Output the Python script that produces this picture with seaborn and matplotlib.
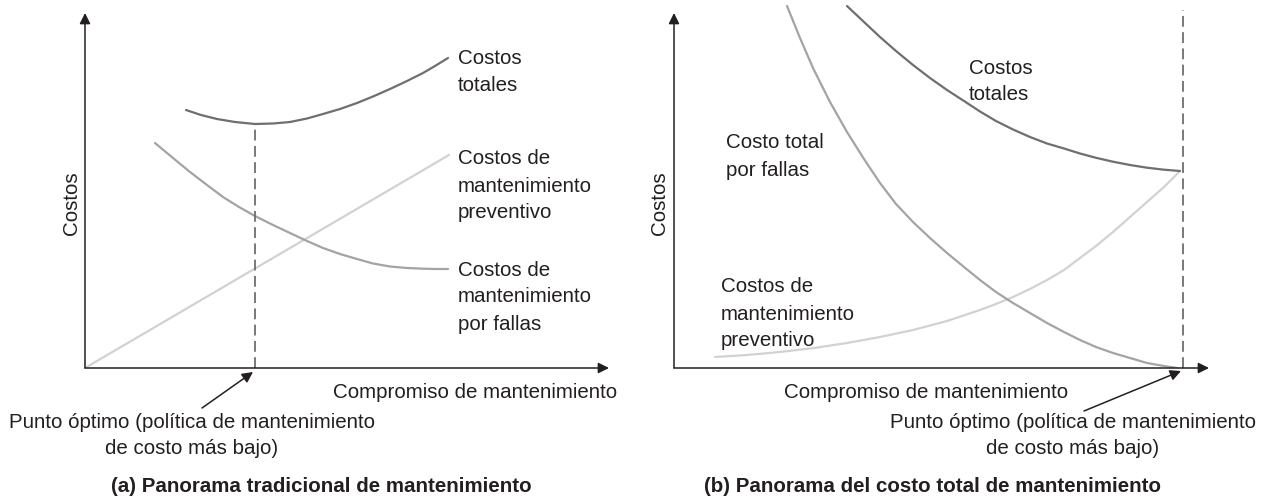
import matplotlib
matplotlib.use("Agg")
import matplotlib.pyplot as plt
import seaborn as sns
import pandas as pd

# ---------------- data (arbitrary cost units) ----------------
# Panel (a): traditional view
a_prev_x = [0, 364]
a_prev_y = [0, 213]
a_fail_x = [70, 88, 105, 122, 138, 154, 170, 188, 205, 222, 238, 255, 272, 288, 305, 322, 338, 350, 363]
a_fail_y = [225, 210, 196, 183, 171, 161, 152, 143, 135, 127, 120, 114, 109, 104.5, 101.5, 100, 99.3, 99, 99]
a_tot_x = [101, 116, 132, 150, 170, 188, 205, 222, 238, 255, 272, 288, 305, 322, 338, 350, 363]
a_tot_y = [258, 253, 249, 246, 244, 244.5, 246, 249.5, 254, 259, 265, 271.5, 279, 287, 295, 302, 310]
a_opt_x = 170
a_opt_y = 244

# Panel (b): total cost view
b_tot_x = [173, 190, 206, 222, 239, 256, 273, 290, 306, 322, 339, 356, 373, 390, 406, 422, 439, 456, 473, 490, 506]
b_tot_y = [362, 346, 331, 317, 303, 290, 278, 267, 256.5, 247, 238.5, 231, 224.5, 219.5, 214.5, 210.2, 206.3, 203, 200.3, 198.3, 197]
b_fail_x = [113, 126, 139, 156, 173, 190, 206, 222, 239, 256, 273, 290, 306, 322, 339, 356, 373, 390, 406, 422, 439, 456, 473, 490, 503]
b_fail_y = [362, 330, 300, 266, 236, 209, 185, 164, 146, 130, 115, 101, 88, 76, 65, 55, 45, 36, 28, 21, 15, 10, 5, 2, 0]
b_prev_x = [41, 73, 106, 140, 173, 206, 239, 273, 306, 322, 339, 356, 373, 390, 406, 422, 439, 456, 473, 490, 506]
b_prev_y = [11, 13, 16, 20, 25, 31, 38, 47, 58, 64, 71, 79, 88, 98, 110, 122, 136, 151, 166, 181, 197]
b_opt_x = 509
b_opt_y = 358

ylabel = "Costos"
xlabel = "Compromiso de mantenimiento"
opt_text = ["Punto óptimo (política de mantenimiento", "de costo más bajo)"]
titles = ["(a) Panorama tradicional de mantenimiento",
          "(b) Panorama del costo total de mantenimiento"]

# ---------------- style ----------------
sns.set_theme(style="white")
plt.rcParams['font.family'] = ['Liberation Sans', 'DejaVu Sans']

W, H = 1266, 499
fig = plt.figure(figsize=(W / 100, H / 100), dpi=100)

INK = "#231f20"
C_TOT = "#6e6e73"
C_FAIL = "#a3a3a8"
C_PREV = "#d2d2d2"
C_DASH = "#6e6e6e"
FS = 14.8


def px_text(x, y, s, ha="left", **kw):
    fig.text(x / W, 1 - y / H, s, ha=ha, va="center", fontsize=FS,
             color=INK, **kw)


def make_axes(x0, x1, y0):
    ax = fig.add_axes([x0 / W, (H - y0) / H, (x1 - x0) / W, y0 / H])
    ax.set_xlim(0, x1 - x0)
    ax.set_ylim(0, y0)
    ax.axis("off")
    ap = dict(arrowstyle="-|>", color=INK, lw=1.1, mutation_scale=16,
              shrinkA=0, shrinkB=0)
    ax.annotate("", xy=(0, y0 - 13), xytext=(0, 0), arrowprops=ap)
    ax.annotate("", xy=(x1 - x0, 0), xytext=(0, 0), arrowprops=ap)
    return ax


def curve(ax, xs, ys, color, lw=1.6):
    df = pd.DataFrame({"x": xs, "y": ys})
    sns.lineplot(data=df, x="x", y="y", ax=ax, color=color, lw=lw,
                 sort=False, estimator=None)


# ---------------- panel (a) ----------------
axa = make_axes(85, 609, 368)
curve(axa, a_prev_x, a_prev_y, C_PREV)
curve(axa, a_fail_x, a_fail_y, C_FAIL)
curve(axa, a_tot_x, a_tot_y, C_TOT)
axa.plot([a_opt_x, a_opt_x], [0, a_opt_y], color=C_DASH, lw=1.3,
         linestyle=(0, (6, 3)))
axa.annotate("", xy=(253 / W, 1 - 372 / H), xytext=(202 / W, 1 - 408 / H),
             xycoords="figure fraction", textcoords="figure fraction",
             arrowprops=dict(arrowstyle="-|>", color=INK, lw=1.1,
                             mutation_scale=16, shrinkA=0, shrinkB=0))

px_text(458, 58, "Costos")
px_text(458, 85, "totales")
px_text(458, 159, "Costos de")
px_text(458, 187, "mantenimiento")
px_text(458, 213, "preventivo")
px_text(458, 271, "Costos de")
px_text(458, 297, "mantenimiento")
px_text(458, 324, "por fallas")
px_text(475, 392, xlabel, ha="center")
px_text(192, 422, opt_text[0], ha="center")
px_text(192, 449, opt_text[1], ha="center")
px_text(321, 487, titles[0], ha="center", fontweight="bold")
px_text(71, 203, ylabel, ha="center", rotation=90)

# ---------------- panel (b) ----------------
axb = make_axes(674, 1209, 368)
curve(axb, b_prev_x, b_prev_y, C_PREV)
curve(axb, b_fail_x, b_fail_y, C_FAIL)
curve(axb, b_tot_x, b_tot_y, C_TOT)
axb.plot([b_opt_x, b_opt_x], [0, b_opt_y], color=C_DASH, lw=1.3,
         linestyle=(0, (6, 3)))
axb.annotate("", xy=(1181 / W, 1 - 371 / H), xytext=(1084 / W, 1 - 411 / H),
             xycoords="figure fraction", textcoords="figure fraction",
             arrowprops=dict(arrowstyle="-|>", color=INK, lw=1.1,
                             mutation_scale=16, shrinkA=0, shrinkB=0))

px_text(969, 68, "Costos")
px_text(969, 95, "totales")
px_text(726, 143, "Costo total")
px_text(726, 170, "por fallas")
px_text(721, 287, "Costos de")
px_text(721, 314, "mantenimiento")
px_text(721, 340, "preventivo")
px_text(926, 392, xlabel, ha="center")
px_text(1073, 422, opt_text[0], ha="center")
px_text(1073, 449, opt_text[1], ha="center")
px_text(932, 487, titles[1], ha="center", fontweight="bold")
px_text(659, 203, ylabel, ha="center", rotation=90)

fig.savefig("out.png", dpi=100, facecolor="white")
